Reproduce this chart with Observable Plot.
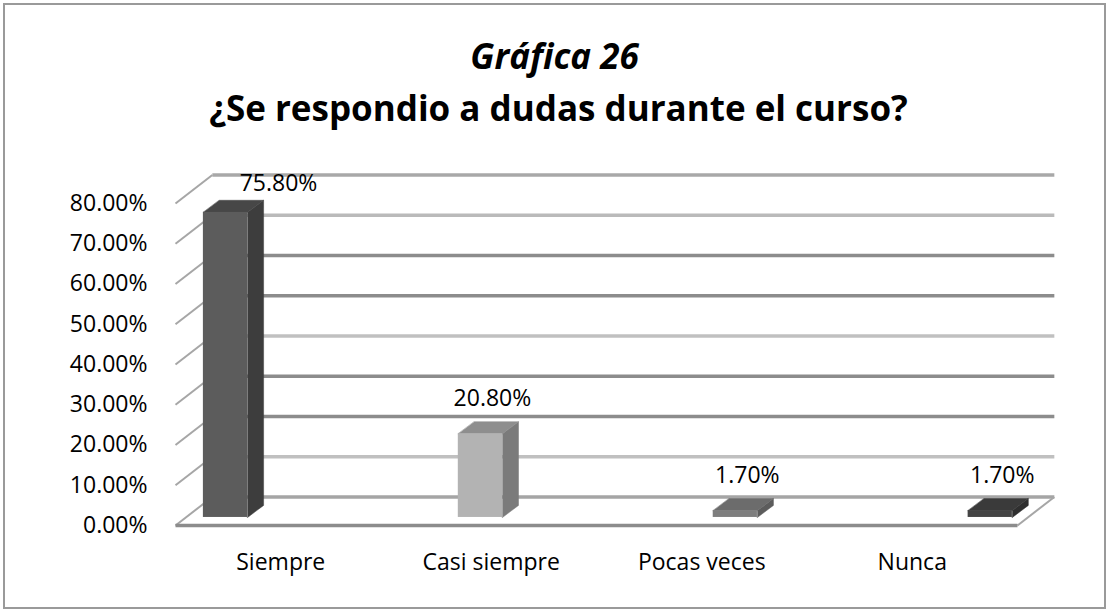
<!DOCTYPE html>
<html>
<head>
<meta charset="utf-8">
<script src="https://cdn.jsdelivr.net/npm/d3@7"></script>
<script src="https://cdn.jsdelivr.net/npm/@observablehq/plot@0.6"></script>
<style>
  body { margin: 0; background: #fff; font-family: "Open Sans", sans-serif; }
  #wrap { position: relative; width: 1109px; height: 613px; overflow: hidden; background: #fff; }
  #frame { position: absolute; left: 3px; top: 3px; width: 1103px; height: 606px; border: 2px solid #9a9a9a; box-sizing: border-box; }
  .title { position: absolute; left: 0; width: 1109px; text-align: center; font-weight: 700; font-size: 35px; line-height: 40px; color: #000; white-space: nowrap; }
  #t1 { top: 36px; font-style: italic; }
  #t2 { top: 88px; padding-left: 8px; box-sizing: border-box; }
  #chart { position: absolute; left: 0; top: 150px; }
</style>
</head>
<body>
<div id="wrap">
  <div id="frame"></div>
  <div class="title" id="t1">Gráfica 26</div>
  <div class="title" id="t2">¿Se respondio a dudas durante el curso?</div>
  <div id="chart"></div>
</div>
<script>
// ---- data ----
const categories = ["Siempre", "Casi siempre", "Pocas veces", "Nunca"];
const values = [75.8, 20.8, 1.7, 1.7];
const yTicks = [0, 10, 20, 30, 40, 50, 60, 70, 80];

// ---- styles ----
const frontColors = ["#5c5c5c", "#b3b3b3", "#7e7e7e", "#444444"];
const sideColors  = ["#3d3d3d", "#7b7b7b", "#5c5c5c", "#2f2f2f"];
const topColors   = ["#474747", "#8e8e8e", "#6c6c6c", "#3a3a3a"];
const gridColors  = ["#a5a5a5", "#c0c0c0", "#8c8c8c", "#8c8c8c", "#c0c0c0", "#8c8c8c", "#8c8c8c", "#bababa", "#a8a8a8"];

// ---- pseudo-3D layout (x in category slots, y in percentage points) ----
const nSlots = categories.length;
const wallDx = 0.175, wallDy = 7.1;          // depth of the back wall
const barBase = 2.0;                          // bars stand a little into the floor
const barHalf = 0.105, barDx = 0.076, barDy = 3.0; // bar half width and depth
const barCenter = i => 0.2375 + 1.211 * i;    // Excel's 3D column placement

const bars = categories.map((c, i) => ({ c, i, v: values[i], cx: barCenter(i) }));

const faces = [];
bars.forEach(b => {
  const x1 = b.cx - barHalf, x2 = b.cx + barHalf, y0 = barBase, y1 = barBase + b.v;
  [[x2, y0], [x2 + barDx, y0 + barDy], [x2 + barDx, y1 + barDy], [x2, y1]]
    .forEach(([x, y]) => faces.push({ id: "s" + b.i, x, y, fill: sideColors[b.i] }));
  [[x1, y1], [x2, y1], [x2 + barDx, y1 + barDy], [x1 + barDx, y1 + barDy]]
    .forEach(([x, y]) => faces.push({ id: "t" + b.i, x, y, fill: topColors[b.i] }));
});

const fmt = d => d.toFixed(2) + "%";

const chart = Plot.plot({
  width: 1109,
  height: 463,
  marginLeft: 175,
  marginRight: 92,
  marginTop: 53,
  marginBottom: 88,
  style: { fontFamily: "'Open Sans', sans-serif", fontSize: "23px", background: "transparent", overflow: "visible", color: "#000" },
  x: { domain: [0, nSlots], axis: null },
  y: { domain: [0, 80] },
  color: { type: "identity" },
  marks: [
    // back wall gridlines
    Plot.link(yTicks, {
      x1: wallDx, x2: nSlots + wallDx,
      y1: t => t + wallDy, y2: t => t + wallDy,
      stroke: (t, i) => gridColors[i], strokeWidth: 3.5
    }),
    // left wall diagonals
    Plot.link(yTicks, {
      x1: 0, x2: wallDx, y1: t => t, y2: t => t + wallDy,
      stroke: "#a6a6a6", strokeWidth: 2
    }),
    // right floor edge
    Plot.link([0], {
      x1: nSlots, x2: nSlots + wallDx, y1: 0, y2: wallDy,
      stroke: "#a6a6a6", strokeWidth: 2
    }),
    // front floor edge
    Plot.link([0], {
      x1: 0, x2: nSlots, y1: 0, y2: 0,
      stroke: "#8c8c8c", strokeWidth: 3.5
    }),
    // bars: side and top faces
    Plot.line(faces, {
      x: "x", y: "y", z: "id", fill: "fill", stroke: "fill", strokeWidth: 0.5,
      curve: "linear-closed"
    }),
    // bars: front faces
    Plot.rect(bars, {
      x1: d => d.cx - barHalf, x2: d => d.cx + barHalf,
      y1: barBase, y2: d => barBase + d.v,
      fill: d => frontColors[d.i]
    }),
    // y axis labels
    Plot.axisY(yTicks, { tickSize: 0, tickPadding: 28, tickFormat: fmt, fontSize: 23, label: null }),
    // category labels
    Plot.text(categories, { x: (d, i) => i + 0.5, frameAnchor: "bottom", dy: 44, fontSize: 23, fill: "#000" }),
    // value labels
    Plot.text(bars.filter(d => d.i === 0), {
      x: "cx", y: d => barBase + d.v, text: d => fmt(d.v), dx: 53, dy: -29, fontSize: 23, fill: "#000"
    }),
    Plot.text(bars.filter(d => d.i > 0), {
      x: "cx", y: d => barBase + d.v, text: d => fmt(d.v), dx: 12, dy: -35, fontSize: 23, fill: "#000"
    })
  ]
});

document.getElementById("chart").appendChild(chart);
</script>
</body>
</html>
